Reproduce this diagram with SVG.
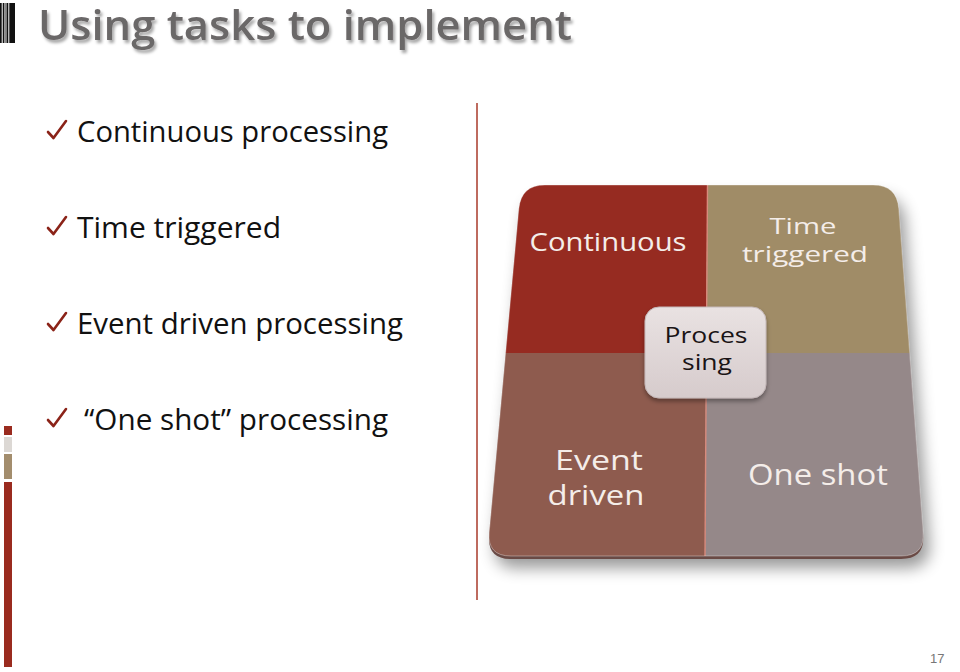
<svg xmlns="http://www.w3.org/2000/svg" width="960" height="672" viewBox="0 0 960 672">
<style>
.title{font-family:"Open Sans","Liberation Sans",sans-serif;font-weight:600;font-size:42px;fill:#6b6768}
.bullet{font-family:"Open Sans","Liberation Sans",sans-serif;font-size:29px;fill:#111}
.check{fill:none;stroke:#8b2318;stroke-width:2.6;stroke-linecap:round;stroke-linejoin:round}
.qt{font-family:"Open Sans","Liberation Sans",sans-serif;fill:#f4ede9;text-anchor:middle}
.ct{font-family:"Open Sans","Liberation Sans",sans-serif;fill:#1a1416;text-anchor:middle;font-size:22px}
.pg{font-family:"Liberation Sans",sans-serif;font-size:13px;fill:#777}
</style>
<defs>
<filter id="tshadow" x="-5%" y="-20%" width="110%" height="150%">
<feDropShadow dx="2" dy="3" stdDeviation="1.5" flood-color="#000" flood-opacity="0.35"/>
</filter>
<filter id="blur" x="-20%" y="-20%" width="140%" height="140%">
<feGaussianBlur stdDeviation="8"/>
</filter>
<filter id="bshadow" x="-20%" y="-20%" width="140%" height="150%">
<feDropShadow dx="0" dy="3" stdDeviation="2" flood-color="#000" flood-opacity="0.35"/>
</filter>
<clipPath id="board">
<path d="M545,185 L873,185 Q897,185 898.8,208.9 L923.2,532.1 Q925,556 901,556 L511,556 Q487,556 489.2,532.1 L518.8,208.9 Q521,185 545,185 Z"/>
</clipPath>
<linearGradient id="cg" x1="0" y1="0" x2="0" y2="1">
<stop offset="0" stop-color="#e9e2e2"/>
<stop offset="1" stop-color="#d6cbcc"/>
</linearGradient>
</defs>
<rect width="960" height="672" fill="#fff"/>
<g id="title-bars">
<rect x="0" y="3" width="1.7" height="40" fill="#111"/>
<rect x="2.7" y="3" width="1.6" height="40" fill="#111"/>
<rect x="4.3" y="3" width="2.4" height="40" fill="#888"/>
<rect x="6.7" y="3" width="1.6" height="40" fill="#111"/>
<rect x="9.3" y="3" width="5.7" height="40" fill="#111"/>
</g>
<g id="title">
<text class="title" x="38" y="40" textLength="534" lengthAdjust="spacingAndGlyphs" filter="url(#tshadow)">Using tasks to implement</text>
</g>
<g id="sidebar">
<rect x="4" y="426" width="8" height="9" fill="#9a2b1f"/>
<rect x="4" y="437" width="8" height="15" fill="#dcd8d4"/>
<rect x="4" y="454" width="8" height="25" fill="#a38d6d"/>
<rect x="4" y="482" width="8" height="185" fill="#9a2b1f"/>
</g>
<line x1="477" y1="103" x2="477" y2="600" stroke="#a83a2a" stroke-width="1.5"/>
<g id="bullet1">
<path class="check" d="M48,132 L53.5,138 L66,121"/>
<text class="bullet" x="77" y="142" textLength="311" lengthAdjust="spacingAndGlyphs">Continuous processing</text>
</g>
<g id="bullet2">
<path class="check" d="M48,228 L53.5,234 L66,217"/>
<text class="bullet" x="77" y="238" textLength="204" lengthAdjust="spacingAndGlyphs">Time triggered</text>
</g>
<g id="bullet3">
<path class="check" d="M48,324 L53.5,330 L66,313"/>
<text class="bullet" x="77" y="334" textLength="326" lengthAdjust="spacingAndGlyphs">Event driven processing</text>
</g>
<g id="bullet4">
<path class="check" d="M48,420 L53.5,426 L66,409"/>
<text class="bullet" x="84" y="430" textLength="304" lengthAdjust="spacingAndGlyphs">“One shot” processing</text>
</g>
<g id="board-shadow">
<path d="M545,185 L873,185 Q897,185 898.8,208.9 L923.2,532.1 Q925,556 901,556 L511,556 Q487,556 489.2,532.1 L518.8,208.9 Q521,185 545,185 Z" transform="translate(6,12)" fill="#000" opacity="0.4" filter="url(#blur)"/>
<path d="M545,185 L873,185 Q897,185 898.8,208.9 L923.2,532.1 Q925,556 901,556 L511,556 Q487,556 489.2,532.1 L518.8,208.9 Q521,185 545,185 Z" transform="translate(0,3)" fill="#6a4a45"/>
</g>
<g clip-path="url(#board)">
<g id="continuous">
<polygon points="480,180 707.5,180 706,353 480,353" fill="#962b21"/>
<text class="qt" x="608" y="251" font-size="25" textLength="157" lengthAdjust="spacingAndGlyphs">Continuous</text>
</g>
<g id="time-triggered">
<polygon points="707.5,180 940,180 940,353 706,353" fill="#a08c67"/>
<text class="qt" x="803" y="234" font-size="22" textLength="67" lengthAdjust="spacingAndGlyphs">Time</text>
<text class="qt" x="805" y="262" font-size="22" textLength="126" lengthAdjust="spacingAndGlyphs">triggered</text>
</g>
<g id="event-driven">
<polygon points="480,353 706,353 705,560 480,560" fill="#8e5b4e"/>
<text class="qt" x="599" y="470" font-size="27" textLength="88" lengthAdjust="spacingAndGlyphs">Event</text>
<text class="qt" x="596" y="505" font-size="27" textLength="97" lengthAdjust="spacingAndGlyphs">driven</text>
</g>
<g id="one-shot">
<polygon points="706,353 940,353 940,560 705,560" fill="#958889"/>
<text class="qt" x="818" y="485" font-size="29" textLength="140" lengthAdjust="spacingAndGlyphs">One shot</text>
</g>
<line x1="707.5" y1="185" x2="705" y2="556" stroke="#d88a7c" stroke-width="1.4"/>
</g>
<path d="M545,185 L873,185 Q897,185 898.8,208.9 L923.2,532.1 Q925,556 901,556 L511,556 Q487,556 489.2,532.1 L518.8,208.9 Q521,185 545,185 Z" fill="none" stroke="#fff" stroke-opacity="0.35" stroke-width="1"/>
<g id="processing">
<rect x="645" y="307" width="121" height="91" rx="14" fill="url(#cg)" stroke="#c4b8b9" stroke-width="1" filter="url(#bshadow)"/>
<text class="ct" x="706" y="343" textLength="83" lengthAdjust="spacingAndGlyphs">Proces</text>
<text class="ct" x="707" y="370" textLength="50" lengthAdjust="spacingAndGlyphs">sing</text>
</g>
<text class="pg" x="930" y="663">17</text>
</svg>
